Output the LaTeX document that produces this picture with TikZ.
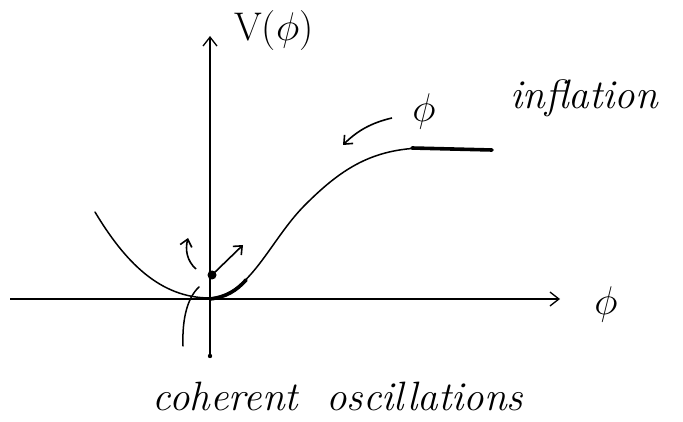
\documentclass[tikz,border=0pt]{standalone}
\usepackage{fix-cm}
\usepackage{amsmath}
\usepackage{tikz}
\usetikzlibrary{arrows.meta,positioning,calc}

\begin{document}
\begin{tikzpicture}[
  x=1pt, y=-1pt,
  axis/.style={line width=1.1pt, -{Straight Barb[length=9pt, width=14pt, line width=1.3pt]}},
  pot/.style={line width=1.5pt, line cap=round},
  heavy/.style={line width=3.6pt, line cap=round},
  kick/.style={line width=1.6pt, -{Straight Barb[length=7pt, width=12pt, line width=1.6pt]}},
  hand/.style={font=\fontsize{41}{46}\selectfont\itshape},
  sym/.style={font=\fontsize{40}{46}\selectfont}
]
\useasboundingbox (0,0) rectangle (683,422);

% axes
\coordinate (xstart) at (10,299);
\coordinate (xend) at (560,299);
\coordinate (ystart) at (210,356);
\coordinate (yend) at (210,36);
\draw[axis] (xstart) -- (xend);
\draw[axis] (ystart) -- (yend);
\fill (ystart) circle (2.2pt);

\node[sym, anchor=west, inner sep=0pt] (vlabel) at (234,31) {V($\phi$)};
\node[sym] (xlabel) at (606,304) {$\phi$};

% the potential
\draw[pot] (95,212) .. controls (125,262) and (160,298) .. (210,298)
  .. controls (250,296) and (270,240) .. (305,205)
  .. controls (340,170) and (370,150) .. (420,148) -- (492,150);
\draw[heavy] (210,299) .. controls (226,297) and (236,291) .. (246,280);
\draw[heavy] (412,148) -- (492,150);

% field rolling down
\node[sym] (fieldlabel) at (424,112) {$\phi$};
\coordinate (rollfrom) at (392,118);
\coordinate (rollto) at (343,145);
\draw[kick] (rollfrom) .. controls (370,123) and (356,132) .. (rollto);

% oscillation near the minimum
\coordinate (ball) at (212,275);
\coordinate (kickto) at (243,245);
\coordinate (swingfrom) at (196,269);
\coordinate (swingto) at (188,238);
\fill (ball) circle (4.5pt);
\draw[kick] (ball) -- (kickto);
\draw[kick] (swingfrom) .. controls (187,261) and (185,250) .. (swingto);
\draw[pot] (199,287) .. controls (187,298) and (182,320) .. (183,346);

\node[hand] (inflation) at (584,98) {inflation};
\node[hand] (oscill) at (338,396) {coherent\hspace{14pt} oscillations};
\end{tikzpicture}
\end{document}
